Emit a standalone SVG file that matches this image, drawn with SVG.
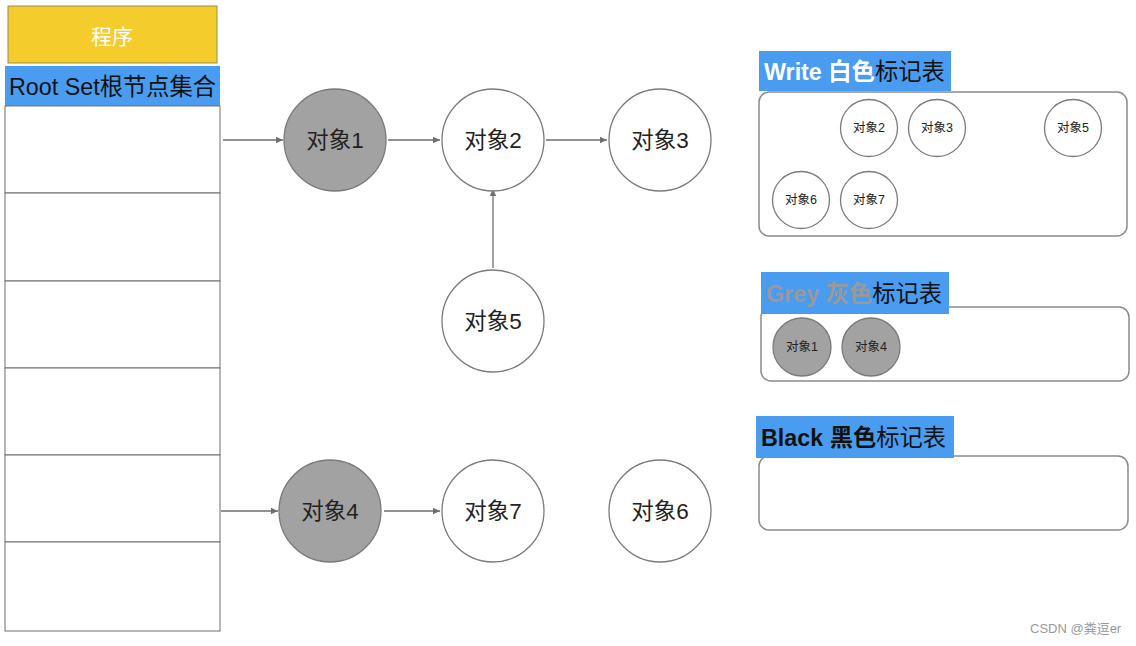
<svg xmlns="http://www.w3.org/2000/svg" width="1136" height="646" viewBox="0 0 1136 646">
<style>
text{font-family:"Liberation Sans","Noto Sans CJK SC",sans-serif;}
.node{fill:#fff;stroke:#7a7a7a;stroke-width:1.3;}
.grey{fill:#a2a2a2;}
.lbl{font-size:22.5px;fill:#222;text-anchor:middle;dominant-baseline:central;}
.sl{font-size:12.5px;fill:#222;text-anchor:middle;dominant-baseline:central;}
.conn{stroke:#6e6e6e;stroke-width:1.3;fill:none;marker-end:url(#ah);}
.hdr{fill:#4a9cf0;}
.box{fill:#fff;stroke:#8a8a8a;stroke-width:1.5;}
.cell{fill:#fff;stroke:#6e6e6e;stroke-width:1;}
.ht{font-size:23.3px;fill:#111;}
</style>
<defs>
<marker id="ah" markerWidth="8" markerHeight="8" refX="7" refY="4" orient="auto" markerUnits="userSpaceOnUse">
<path d="M0,0.8 L7,4 L0,7.2 Z" fill="#6e6e6e"/>
</marker>
</defs>
<rect width="1136" height="646" fill="#fff"/>
<g id="program">
<rect x="8" y="6" width="209" height="57" fill="#f4cd2c" stroke="#9a8a50" stroke-width="1"/>
<text x="112" y="36" font-size="21" fill="#fff" text-anchor="middle" dominant-baseline="central">程序</text>
</g>
<g id="rootset">
<rect x="5" y="66" width="215" height="40" class="hdr"/>
<text x="9" y="95" font-size="23.3" fill="#111">Root Set根节点集合</text>
<rect x="5" y="106" width="215" height="87" class="cell"/>
<rect x="5" y="193" width="215" height="88" class="cell"/>
<rect x="5" y="281" width="215" height="87" class="cell"/>
<rect x="5" y="368" width="215" height="87" class="cell"/>
<rect x="5" y="455" width="215" height="87" class="cell"/>
<rect x="5" y="542" width="215" height="89" class="cell"/>
</g>
<g id="connectors">
<line x1="223" y1="140" x2="283" y2="140" class="conn"/>
<line x1="388" y1="140" x2="440" y2="140" class="conn"/>
<line x1="546" y1="140" x2="607" y2="140" class="conn"/>
<line x1="493" y1="268" x2="493" y2="189" class="conn"/>
<line x1="221" y1="511" x2="278" y2="511" class="conn"/>
<line x1="384" y1="511" x2="440" y2="511" class="conn"/>
</g>
<g id="obj1"><circle cx="335" cy="140" r="51" class="node grey"/><text x="335" y="140" class="lbl">对象1</text></g>
<g id="obj2"><circle cx="493" cy="140" r="51" class="node"/><text x="493" y="140" class="lbl">对象2</text></g>
<g id="obj3"><circle cx="660" cy="140" r="51" class="node"/><text x="660" y="140" class="lbl">对象3</text></g>
<g id="obj5"><circle cx="493" cy="321" r="51" class="node"/><text x="493" y="321" class="lbl">对象5</text></g>
<g id="obj4"><circle cx="330" cy="511" r="51" class="node grey"/><text x="330" y="511" class="lbl">对象4</text></g>
<g id="obj7"><circle cx="493" cy="511" r="51" class="node"/><text x="493" y="511" class="lbl">对象7</text></g>
<g id="obj6"><circle cx="660" cy="511" r="51" class="node"/><text x="660" y="511" class="lbl">对象6</text></g>
<g id="white-table">
<rect x="759" y="92" width="368" height="144" rx="10" class="box"/>
<rect x="759" y="51" width="192" height="40" class="hdr"/>
<text x="764" y="80" class="ht"><tspan font-weight="bold" fill="#fff">Write 白色</tspan>标记表</text>
<circle cx="869" cy="128" r="28.5" class="node"/><text x="869" y="128" class="sl">对象2</text>
<circle cx="937" cy="128" r="28.5" class="node"/><text x="937" y="128" class="sl">对象3</text>
<circle cx="1073" cy="128" r="28.5" class="node"/><text x="1073" y="128" class="sl">对象5</text>
<circle cx="801" cy="200" r="28.5" class="node"/><text x="801" y="200" class="sl">对象6</text>
<circle cx="869" cy="200" r="28.5" class="node"/><text x="869" y="200" class="sl">对象7</text>
</g>
<g id="grey-table">
<rect x="761" y="307" width="368" height="74" rx="10" class="box"/>
<rect x="761" y="272" width="188" height="42" class="hdr"/>
<text x="766" y="302" class="ht"><tspan font-weight="bold" fill="#999">Grey 灰色</tspan>标记表</text>
<circle cx="802" cy="347" r="29" class="node grey"/><text x="802" y="347" class="sl">对象1</text>
<circle cx="871" cy="347" r="29" class="node grey"/><text x="871" y="347" class="sl">对象4</text>
</g>
<g id="black-table">
<rect x="759" y="456" width="369" height="74" rx="10" class="box"/>
<rect x="756" y="416" width="198" height="42" class="hdr"/>
<text x="761" y="446" class="ht"><tspan font-weight="bold" fill="#111">Black 黑色</tspan>标记表</text>
</g>
<text x="1030" y="633" font-size="13" fill="#999">CSDN @粪逗er</text>
</svg>
